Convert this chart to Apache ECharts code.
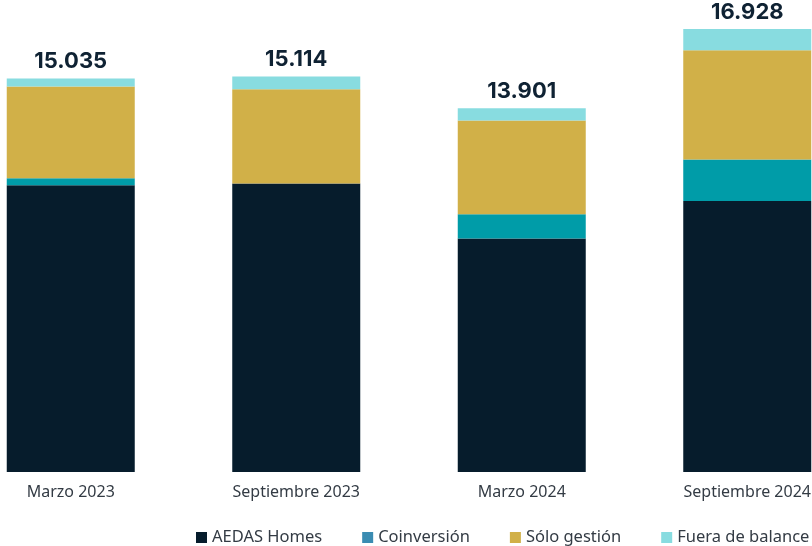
<!DOCTYPE html>
<html>
<head>
<meta charset="utf-8">
<script src="https://cdn.jsdelivr.net/npm/echarts@6/dist/echarts.min.js"></script>
<style>
  html, body { margin: 0; padding: 0; background: #ffffff; overflow: hidden; }
  body { width: 812px; height: 546px; position: relative; }
  /* the plot runs past both edges of the page */
  #chart { position: absolute; left: -42px; top: 0; width: 902px; height: 546px; }
</style>
</head>
<body>
<div id="chart"></div>
<script>
// Periods shown along the x axis
const periods = ['Marzo 2023', 'Septiembre 2023', 'Marzo 2024', 'Septiembre 2024'];

// Units per segment (stack order: bottom to top)
const aedasHomes   = [10962, 11026, 8919, 10358];
const coinversion  = [266, 0, 927, 1584];
const soloGestion  = [3501, 3600, 3591, 4174];
const fueraBalance = [306, 488, 464, 812];

const seriesNames = ['AEDAS Homes', 'Coinversión', 'Sólo gestión', 'Fuera de balance'];
const barColors = ['#061c2c', '#009ca8', '#d1b048', '#88dce0'];
const legendColors = ['#061c2c', '#3a8cb2', '#d1b048', '#88dce0'];

const stacks = [aedasHomes, coinversion, soloGestion, fueraBalance];

// Spanish thousands separator
function fmt(n) {
  return String(Math.round(n)).replace(/\B(?=(\d{3})+(?!\d))/g, '.');
}
function totalAt(i) {
  return stacks.reduce((s, arr) => s + arr[i], 0);
}

const chart = echarts.init(document.getElementById('chart'));

const series = stacks.map((data, k) => ({
  name: seriesNames[k],
  type: 'bar',
  stack: 'total',
  data: data,
  barWidth: 128,
  itemStyle: { color: barColors[k] },
  emphasis: { disabled: true },
  label: k === stacks.length - 1 ? {
    show: true,
    position: 'top',
    distance: 6,
    formatter: p => fmt(totalAt(p.dataIndex)),
    fontFamily: 'Inter',
    fontWeight: 'bold',
    fontSize: 22,
    color: '#0f2233'
  } : { show: false }
}));

chart.setOption({
  animation: false,
  grid: { left: 0, right: 0, top: 1, bottom: 74 },
  legend: {
    left: 233,
    top: 524,
    itemWidth: 11,
    itemHeight: 11,
    itemGap: 40,
    icon: 'rect',
    textStyle: { fontFamily: 'Noto Sans', fontSize: 16.5, color: '#333b44' },
    data: seriesNames.map((n, k) => ({ name: n, itemStyle: { color: legendColors[k] } }))
  },
  xAxis: {
    type: 'category',
    data: periods,
    axisLine: { show: false },
    axisTick: { show: false },
    axisLabel: {
      margin: 12,
      fontFamily: 'Noto Sans',
      fontSize: 16,
      color: '#333b44',
      interval: 0
    }
  },
  yAxis: {
    type: 'value',
    min: 0,
    max: 18000,
    show: false,
    splitLine: { show: false }
  },
  series: series
});
</script>
</body>
</html>
